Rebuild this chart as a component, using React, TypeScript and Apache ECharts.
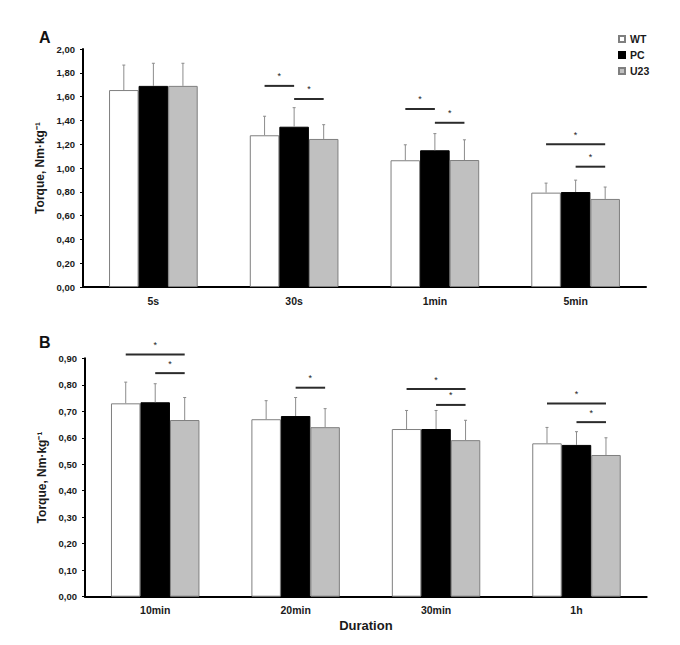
import React, { useEffect, useRef } from "react";
import * as echarts from "echarts";

const categoriesA = ["5s", "30s", "1min", "5min"];
const categoriesB = ["10min", "20min", "30min", "1h"];
const groupNames = ["WT", "PC", "U23"];

// Panel A means and SDs
const wtA = [1.655, 1.275, 1.065, 0.793];
const pcA = [1.69, 1.347, 1.149, 0.798];
const u23A = [1.69, 1.244, 1.067, 0.74];
const wtAsd = [0.21, 0.16, 0.13, 0.08];
const pcAsd = [0.19, 0.16, 0.14, 0.1];
const u23Asd = [0.19, 0.12, 0.17, 0.1];

// Panel B means and SDs
const wtB = [0.73, 0.67, 0.633, 0.579];
const pcB = [0.734, 0.682, 0.633, 0.573];
const u23B = [0.667, 0.64, 0.591, 0.535];
const wtBsd = [0.08, 0.07, 0.07, 0.06];
const pcBsd = [0.07, 0.07, 0.07, 0.05];
const u23Bsd = [0.085, 0.07, 0.075, 0.065];

// Significance brackets: [category, fromGroup, toGroup, yValue]
const sigA = [
  [1, 0, 1, 1.69],
  [1, 1, 2, 1.58],
  [2, 0, 1, 1.496],
  [2, 1, 2, 1.38],
  [3, 0, 2, 1.2],
  [3, 1, 2, 1.011],
];
const sigB = [
  [0, 0, 2, 0.914],
  [0, 1, 2, 0.844],
  [1, 1, 2, 0.789],
  [2, 0, 2, 0.784],
  [2, 1, 2, 0.724],
  [3, 0, 2, 0.729],
  [3, 1, 2, 0.659],
];

const GAP = 0.37;
const FONT = "Liberation Sans, Arial, sans-serif";
const groupStyles = [
  { color: "#ffffff", borderColor: "#7f7f7f", borderWidth: 1 },
  { color: "#000000", borderColor: "#000000", borderWidth: 1 },
  { color: "#c0c0c0", borderColor: "#7f7f7f", borderWidth: 1 },
];

function errData(means: number[][], sds: number[][]) {
  const out: number[][] = [];
  means.forEach((arr, g) =>
    arr.forEach((m, c) => out.push([c, g, m, m + sds[g][c]]))
  );
  return out;
}

const errRender = (params: any, api: any) => {
  const c = api.value(0);
  const g = api.value(1);
  const m = api.value(2);
  const t = api.value(3);
  const band = api.size([1, 0])[0];
  const bw = (band * (1 - GAP)) / 3;
  const base = api.coord([c, m]);
  const top = api.coord([c, t]);
  const x = base[0] + (g - 1) * bw;
  const st = { stroke: "#8c8c8c", lineWidth: 1 };
  return {
    type: "group",
    children: [
      { type: "line", shape: { x1: x, y1: base[1], x2: x, y2: top[1] }, style: st },
      { type: "line", shape: { x1: x - 1.5, y1: top[1], x2: x + 1.5, y2: top[1] }, style: st },
    ],
  };
};

const sigRender = (params: any, api: any) => {
  const c = api.value(0);
  const f = api.value(1);
  const t = api.value(2);
  const y = api.value(3);
  const band = api.size([1, 0])[0];
  const bw = (band * (1 - GAP)) / 3;
  const p = api.coord([c, y]);
  const x1 = p[0] + (f - 1) * bw;
  const x2 = p[0] + (t - 1) * bw;
  return {
    type: "group",
    children: [
      {
        type: "line",
        shape: { x1, y1: p[1], x2, y2: p[1] },
        style: { stroke: "#2b2b2b", lineWidth: 2 },
      },
      {
        type: "text",
        style: {
          text: "*",
          x: (x1 + x2) / 2,
          y: p[1] - 9.5,
          align: "center",
          verticalAlign: "middle",
          fontSize: 9,
          fontFamily: FONT,
          fill: "#222",
        },
      },
    ],
  };
};

function yAxisCfg(gridIndex: number, max: number, interval: number) {
  return {
    type: "value",
    gridIndex,
    min: 0,
    max,
    interval,
    name: "Torque, Nm·kg⁻¹",
    nameLocation: "middle",
    nameRotate: 90,
    nameGap: 36,
    nameTextStyle: { fontFamily: FONT, fontWeight: "bold", fontSize: 12, color: "#1a1a1a" },
    axisLine: { show: true, lineStyle: { color: "#000", width: 2 } },
    axisTick: { show: true, length: 3, lineStyle: { color: "#000", width: 1 } },
    splitLine: { show: false },
    axisLabel: {
      margin: 8,
      fontFamily: FONT,
      fontWeight: "bold",
      fontSize: 9.5,
      color: "#1a1a1a",
      formatter: (v: number) => v.toFixed(2).replace(".", ","),
    },
  };
}

function xAxisCfg(gridIndex: number, data: string[], name?: string) {
  return {
    type: "category",
    gridIndex,
    data,
    name: name || "",
    nameLocation: "middle",
    nameGap: 22,
    nameTextStyle: { fontFamily: FONT, fontWeight: "bold", fontSize: 13, color: "#1a1a1a" },
    axisLine: { show: true, lineStyle: { color: "#000", width: 2 } },
    axisTick: { show: false },
    axisLabel: { margin: 8, fontFamily: FONT, fontWeight: "bold", fontSize: 10.5, color: "#1a1a1a" },
  };
}

export default function App() {
  const ref = useRef<HTMLDivElement>(null);
  useEffect(() => {
    if (!ref.current) return;
    const chart = echarts.init(ref.current, null, { renderer: "svg" });
    const meansA = [wtA, pcA, u23A];
    const meansB = [wtB, pcB, u23B];
    const barSeries: any[] = [];
    [meansA, meansB].forEach((means, gi) => {
      means.forEach((arr, g) => {
        barSeries.push({
          type: "bar",
          name: groupNames[g],
          xAxisIndex: gi,
          yAxisIndex: gi,
          data: arr,
          barGap: "0%",
          barCategoryGap: GAP * 100 + "%",
          itemStyle: groupStyles[g],
          emphasis: { disabled: true },
        });
      });
    });
    chart.setOption({
      animation: false,
      title: [
        { text: "A", left: 34, top: 24, textStyle: { fontFamily: FONT, fontWeight: "bold", fontSize: 16, color: "#111" } },
        { text: "B", left: 34, top: 329, textStyle: { fontFamily: FONT, fontWeight: "bold", fontSize: 16, color: "#111" } },
      ],
      legend: {
        data: groupNames,
        orient: "vertical",
        left: 613,
        top: 28,
        itemWidth: 6,
        itemHeight: 6,
        itemGap: 4,
        icon: "rect",
        selectedMode: false,
        textStyle: { fontFamily: FONT, fontWeight: "bold", fontSize: 10.5, color: "#1a1a1a", lineHeight: 12 },
      },
      grid: [
        { left: 83, top: 49, width: 563, height: 238 },
        { left: 85, top: 358.3, width: 561.7, height: 238.4 },
      ],
      xAxis: [xAxisCfg(0, categoriesA), xAxisCfg(1, categoriesB, "Duration")],
      yAxis: [yAxisCfg(0, 2, 0.2), yAxisCfg(1, 0.9, 0.1)],
      series: [
        ...barSeries,
        {
          type: "custom",
          xAxisIndex: 0,
          yAxisIndex: 0,
          renderItem: errRender,
          data: errData([wtA, pcA, u23A], [wtAsd, pcAsd, u23Asd]),
          clip: false,
          z: 3,
        },
        {
          type: "custom",
          xAxisIndex: 1,
          yAxisIndex: 1,
          renderItem: errRender,
          data: errData([wtB, pcB, u23B], [wtBsd, pcBsd, u23Bsd]),
          clip: false,
          z: 3,
        },
        { type: "custom", xAxisIndex: 0, yAxisIndex: 0, renderItem: sigRender, data: sigA, clip: false, z: 4 },
        { type: "custom", xAxisIndex: 1, yAxisIndex: 1, renderItem: sigRender, data: sigB, clip: false, z: 4 },
      ],
    });
    return () => chart.dispose();
  }, []);
  return (
    <div
      ref={ref}
      style={{ position: "absolute", left: 0, top: 0, width: 680, height: 645, background: "#fff" }}
    />
  );
}
